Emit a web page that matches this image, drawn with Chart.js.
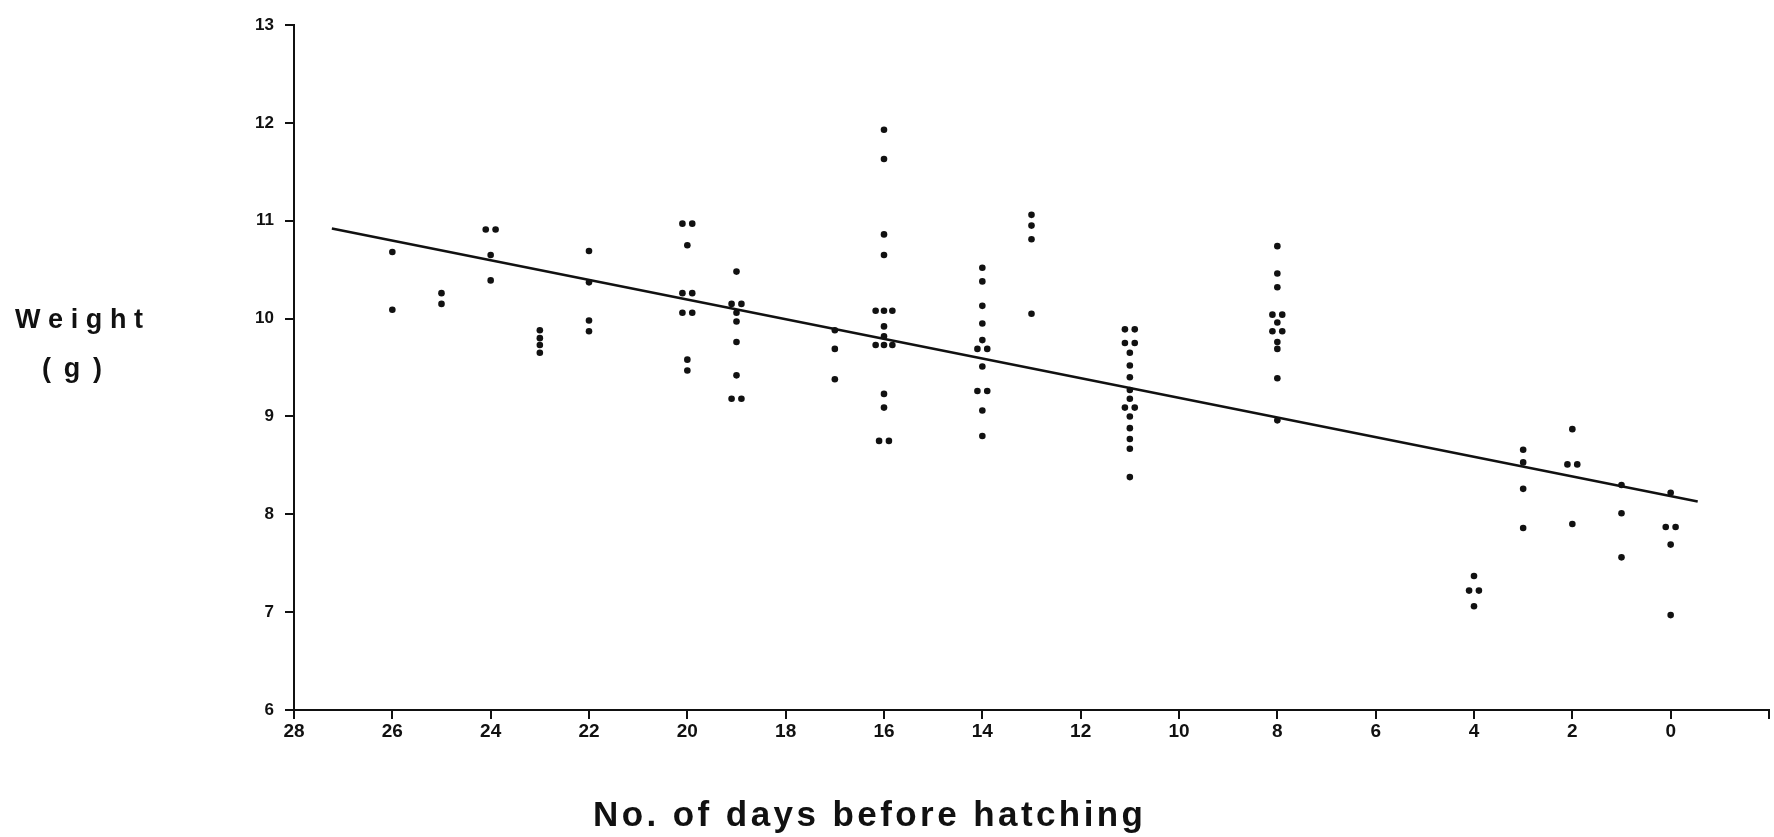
<!DOCTYPE html>
<html>
<head>
<meta charset="utf-8">
<script src="https://cdn.jsdelivr.net/npm/chart.js@4.4.1/dist/chart.umd.min.js"></script>
<style>
  html, body { margin: 0; padding: 0; background: #ffffff; }
  #wrap { width: 1774px; height: 837px; }
</style>
</head>
<body>
<div id="wrap"><canvas id="c" width="1774" height="837"></canvas></div>
<script>
// ---- Data ----
const xTickValues = [28, 26, 24, 22, 20, 18, 16, 14, 12, 10, 8, 6, 4, 2, 0, -2];
const yTickValues = [6, 7, 8, 9, 10, 11, 12, 13];

// Days before hatching (side-by-side dots of equal weight are slightly spread)
const pointDays = [
  26, 26,
  25, 25,
  24.1, 23.9, 24, 24,
  23, 23, 23, 23,
  22, 22, 22, 22,
  20.1, 19.9, 20, 20.1, 19.9, 20.1, 19.9, 20, 20,
  19, 19.1, 18.9, 19, 19, 19, 19, 19.1, 18.9,
  17, 17, 17,
  16, 16, 16, 16, 16.17, 16, 15.83, 16, 16, 16.17, 16, 15.83, 16, 16, 16.1, 15.9,
  14, 14, 14, 14, 14, 14.1, 13.9, 14, 14.1, 13.9, 14, 14,
  13, 13, 13, 13,
  11.1, 10.9, 11.1, 10.9, 11, 11, 11, 11, 11, 11.1, 10.9, 11, 11, 11, 11, 11,
  8, 8, 8, 8.1, 7.9, 8, 8.1, 7.9, 8, 8, 8, 8,
  4, 4.1, 3.9, 4,
  3, 3, 3, 3,
  2, 2.1, 1.9, 2,
  1, 1, 1,
  0, 0.1, -0.1, 0, 0
];
// Weight (g)
const pointWeights = [
  10.68, 10.09,
  10.26, 10.15,
  10.91, 10.91, 10.65, 10.39,
  9.88, 9.80, 9.73, 9.65,
  10.69, 10.37, 9.98, 9.87,
  10.97, 10.97, 10.75, 10.26, 10.26, 10.06, 10.06, 9.58, 9.47,
  10.48, 10.15, 10.15, 10.06, 9.97, 9.76, 9.42, 9.18, 9.18,
  9.88, 9.69, 9.38,
  11.93, 11.63, 10.86, 10.65, 10.08, 10.08, 10.08, 9.92, 9.82, 9.73, 9.73, 9.73, 9.23, 9.09, 8.75, 8.75,
  10.52, 10.38, 10.13, 9.95, 9.78, 9.69, 9.69, 9.51, 9.26, 9.26, 9.06, 8.80,
  11.06, 10.95, 10.81, 10.05,
  9.89, 9.89, 9.75, 9.75, 9.65, 9.52, 9.40, 9.27, 9.18, 9.09, 9.09, 9.00, 8.88, 8.77, 8.67, 8.38,
  10.74, 10.46, 10.32, 10.04, 10.04, 9.96, 9.87, 9.87, 9.76, 9.69, 9.39, 8.96,
  7.37, 7.22, 7.22, 7.06,
  8.66, 8.53, 8.26, 7.86,
  8.87, 8.51, 8.51, 7.90,
  8.30, 8.01, 7.56,
  8.22, 7.87, 7.87, 7.69, 6.97
];

// Fitted regression line end points
const fitDays = [27.23, -0.55];
const fitWeights = [10.92, 8.13];

const xAxisTitle = 'No. of days before hatching';
const yAxisTitleLines = ['Weight', '( g )'];

// ---- Build chart ----
const INK = '#111111';
const scatterData = pointDays.map((d, i) => ({ x: d, y: pointWeights[i] }));
const lineData = fitDays.map((d, i) => ({ x: d, y: fitWeights[i] }));

function drawSpaced(ctx, text, xLeft, xRight, baseline) {
  const chars = Array.from(text);
  const widths = chars.map(c => ctx.measureText(c).width);
  const total = widths.reduce((a, b) => a + b, 0);
  const gap = chars.length > 1 ? ((xRight - xLeft) - total) / (chars.length - 1) : 0;
  let x = xLeft;
  ctx.textAlign = 'left';
  ctx.textBaseline = 'alphabetic';
  chars.forEach((c, i) => {
    ctx.fillText(c, x, baseline);
    x += widths[i] + gap;
  });
}

const titlesPlugin = {
  id: 'titles',
  afterDraw(chart) {
    const ctx = chart.ctx;
    ctx.save();
    ctx.fillStyle = INK;
    ctx.font = 'bold 27px "Liberation Sans", Arial, sans-serif';
    drawSpaced(ctx, yAxisTitleLines[0], 15, 143, 328);
    drawSpaced(ctx, yAxisTitleLines[1], 42, 102, 377);
    ctx.font = 'bold 35px "Liberation Sans", Arial, sans-serif';
    drawSpaced(ctx, xAxisTitle, 593, 1143, 826);
    ctx.restore();
  }
};

new Chart(document.getElementById('c'), {
  type: 'scatter',
  data: {
    datasets: [
      {
        type: 'scatter',
        data: scatterData,
        pointRadius: 3.3,
        pointHoverRadius: 3.3,
        pointBackgroundColor: INK,
        pointBorderColor: INK,
        pointBorderWidth: 0,
        order: 1
      },
      {
        type: 'line',
        data: lineData,
        borderColor: INK,
        borderWidth: 2.5,
        pointRadius: 0,
        fill: false,
        tension: 0,
        order: 2
      }
    ]
  },
  options: {
    responsive: false,
    animation: false,
    devicePixelRatio: 1,
    layout: { padding: { top: 25, right: 5, bottom: 0, left: 0 } },
    plugins: {
      legend: { display: false },
      tooltip: { enabled: false },
      title: { display: false }
    },
    scales: {
      x: {
        type: 'linear',
        reverse: true,
        min: -2,
        max: 28,
        afterBuildTicks(scale) {
          scale.ticks = xTickValues.map(v => ({ value: v }));
        },
        afterFit(scale) { scale.height = 127; },
        ticks: {
          color: INK,
          font: { family: '"Liberation Sans", Arial, sans-serif', size: 19, weight: 'bold' },
          padding: 1,
          maxRotation: 0,
          autoSkip: false,
          callback: (v) => (v < 0 ? '' : String(v))
        },
        grid: {
          drawOnChartArea: false,
          drawTicks: true,
          tickLength: 9,
          color: INK,
          lineWidth: 2
        },
        border: { display: true, color: INK, width: 2 }
      },
      y: {
        type: 'linear',
        min: 6,
        max: 13,
        afterBuildTicks(scale) {
          scale.ticks = yTickValues.map(v => ({ value: v }));
        },
        afterFit(scale) { scale.width = 294; },
        ticks: {
          color: INK,
          font: { family: '"Liberation Sans", Arial, sans-serif', size: 17, weight: 'bold' },
          padding: 11,
          autoSkip: false,
          callback: (v) => String(v)
        },
        grid: {
          drawOnChartArea: false,
          drawTicks: true,
          tickLength: 9,
          color: INK,
          lineWidth: 2
        },
        border: { display: true, color: INK, width: 2 }
      }
    }
  },
  plugins: [titlesPlugin]
});
</script>
</body>
</html>
